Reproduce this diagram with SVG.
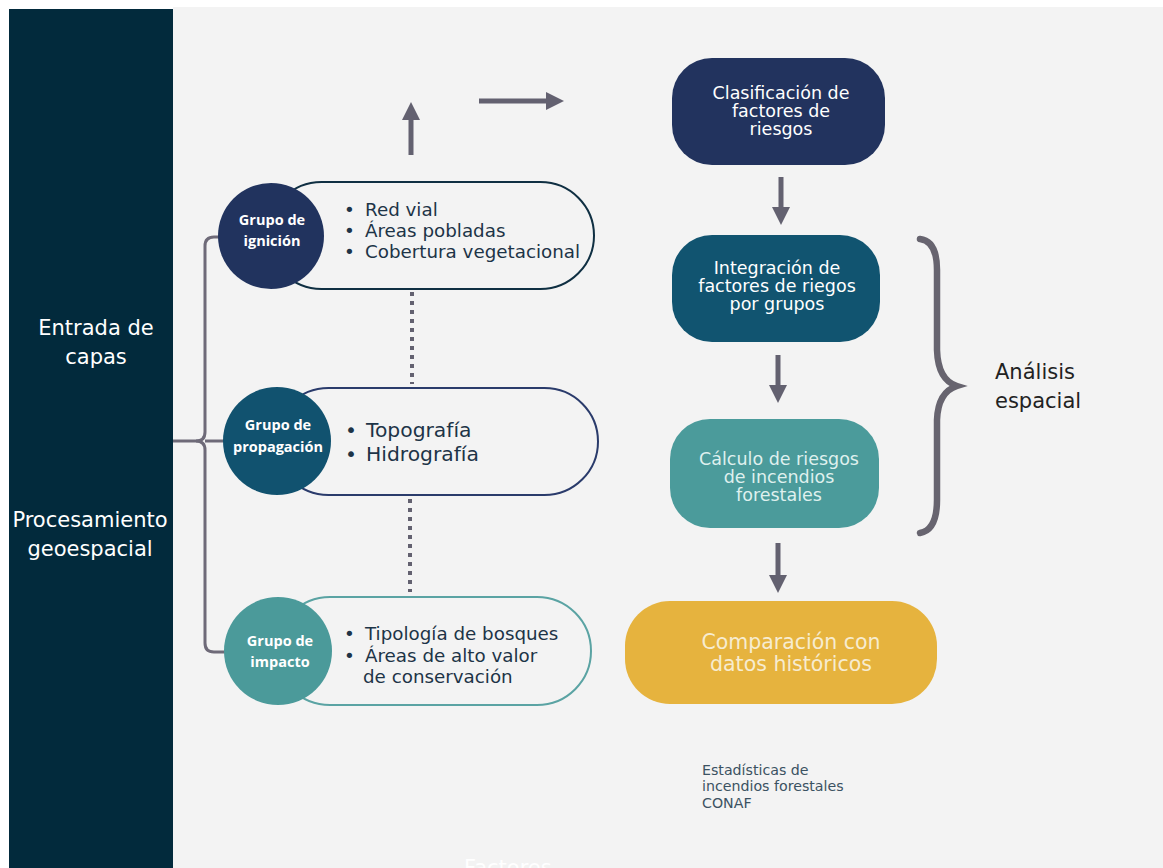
<svg xmlns="http://www.w3.org/2000/svg" width="1163" height="868" viewBox="0 0 1163 868">
<defs>
<style>
.sans{font-family:"DejaVu Sans","Noto Sans","Liberation Sans",sans-serif}
.circ{font-family:"Open Sans","Noto Sans",sans-serif;font-weight:700;font-size:14.5px;fill:#ffffff;text-anchor:middle}
.item{font-family:"DejaVu Sans","Noto Sans",sans-serif;font-size:18.3px;fill:#1d3447}
.box{font-family:"DejaVu Sans","Noto Sans",sans-serif;font-size:17.5px;text-anchor:middle}
.side{font-family:"DejaVu Sans","Noto Sans",sans-serif;font-size:21px;fill:#ffffff;text-anchor:middle}
.conn{stroke:#636170;stroke-width:5;fill:none}
.dot{stroke:#636170;stroke-width:4;fill:none;stroke-dasharray:4 5}
.tree{stroke:#6e6a78;stroke-width:3;fill:none}
</style>
<marker id="ah" markerUnits="userSpaceOnUse" markerWidth="20" markerHeight="20" viewBox="0 0 20 20" refX="2" refY="10" orient="auto">
<path d="M0,1 L18,10 L0,19 Z" fill="#636170"/>
</marker>
</defs>
<rect width="1163" height="868" fill="#ffffff"/>
<rect x="173" y="7" width="990" height="861" fill="#f3f3f3"/>
<rect id="panel" x="9" y="9" width="164" height="859" fill="#022a3c"/>
<text class="side" x="96" y="335">Entrada de</text>
<text class="side" x="96" y="364">capas</text>
<text class="side" x="90" y="527">Procesamiento</text>
<text class="side" x="90" y="556">geoespacial</text>

<g id="connectors">
<path class="tree" d="M173,441 H196 Q205,441 205,432 V246 Q205,237 214,237 H222"/>
<path class="tree" d="M196,441 Q205,441 205,450 V643 Q205,652 214,652 H226"/>
<path class="tree" d="M205,441 H225"/>
<line class="dot" x1="412" y1="292" x2="412" y2="384"/>
<line class="dot" x1="410" y1="499" x2="410" y2="592"/>
<line class="conn" x1="411" y1="155" x2="411" y2="118" marker-end="url(#ah)"/>
<line class="conn" x1="479" y1="101" x2="548" y2="101" marker-end="url(#ah)"/>
<line class="conn" x1="781" y1="177" x2="781" y2="209" marker-end="url(#ah)"/>
<line class="conn" x1="778" y1="355" x2="778" y2="387" marker-end="url(#ah)"/>
<line class="conn" x1="778" y1="543" x2="778" y2="577" marker-end="url(#ah)"/>
<path d="M920,239 Q937,241 937,270 L937,350 Q938,380 957,386 Q938,392 937,420 L937,500 Q937,530 920,533" stroke="#67646f" stroke-width="6.5" fill="none" stroke-linecap="round"/>
</g>

<g id="grupo-ignicion">
<rect x="268" y="182" width="326" height="107" rx="53.5" fill="none" stroke="#0f2f42" stroke-width="2"/>
<circle cx="271" cy="236" r="53" fill="#21335e"/>
<text class="circ" x="272" y="225">Grupo de</text>
<text class="circ" x="272" y="246">ignición</text>
<text class="item" x="344" y="216">•<tspan x="365">Red vial</tspan></text>
<text class="item" x="344" y="237">•<tspan x="365">Áreas pobladas</tspan></text>
<text class="item" x="344" y="258">•<tspan x="365">Cobertura vegetacional</tspan></text>
</g>

<g id="grupo-propagacion">
<rect x="275" y="388" width="323" height="107" rx="53.5" fill="none" stroke="#2a3b6b" stroke-width="2"/>
<circle cx="277" cy="441" r="54" fill="#11526f"/>
<text class="circ" x="278" y="430">Grupo de</text>
<text class="circ" x="278" y="452">propagación</text>
<text class="item" x="345" y="437" style="font-size:20.3px">•<tspan x="366">Topografía</tspan></text>
<text class="item" x="345" y="461" style="font-size:20.3px">•<tspan x="366">Hidrografía</tspan></text>
</g>

<g id="grupo-impacto">
<rect x="276" y="597" width="315" height="108" rx="54" fill="none" stroke="#5aa3a3" stroke-width="2"/>
<circle cx="278" cy="651" r="54" fill="#4b9a9a"/>
<text class="circ" x="280" y="646">Grupo de</text>
<text class="circ" x="280" y="667">impacto</text>
<text class="item" x="344" y="640">•<tspan x="365">Tipología de bosques</tspan></text>
<text class="item" x="344" y="662">•<tspan x="365">Áreas de alto valor</tspan></text>
<text class="item" x="363" y="683">de conservación</text>
</g>

<g id="clasificacion">
<rect x="672" y="58" width="213" height="107" rx="40" fill="#22335e"/>
<text class="box" x="781" y="99" fill="#ffffff">Clasificación de</text>
<text class="box" x="781" y="117" fill="#ffffff">factores de</text>
<text class="box" x="781" y="135" fill="#ffffff">riesgos</text>
</g>

<g id="integracion">
<rect x="672" y="235" width="208" height="107" rx="40" fill="#115470"/>
<text class="box" x="777" y="274" fill="#ffffff">Integración de</text>
<text class="box" x="777" y="292" fill="#ffffff">factores de riegos</text>
<text class="box" x="777" y="310" fill="#ffffff">por grupos</text>
</g>

<g id="calculo">
<rect x="670" y="419" width="209" height="109" rx="40" fill="#4b9b9b"/>
<text class="box" x="779" y="465" fill="#dff0ee">Cálculo de riesgos</text>
<text class="box" x="779" y="483" fill="#dff0ee">de incendios</text>
<text class="box" x="779" y="501" fill="#dff0ee">forestales</text>
</g>

<g id="comparacion">
<rect x="625" y="601" width="312" height="103" rx="45" fill="#e6b33e"/>
<text class="box" x="791" y="649" fill="#f7ecd0" style="font-size:20.5px">Comparación con</text>
<text class="box" x="791" y="671" fill="#f7ecd0" style="font-size:20.5px">datos históricos</text>
</g>

<g id="analisis">
<text class="sans" x="995" y="379" font-size="21" fill="#222222">Análisis</text>
<text class="sans" x="995" y="408" font-size="21" fill="#222222">espacial</text>
</g>

<g id="estadisticas">
<text class="sans" x="702" y="775" font-size="14.2" fill="#3b5262">Estadísticas de</text>
<text class="sans" x="702" y="791" font-size="14.2" fill="#3b5262">incendios forestales</text>
<text class="sans" x="702" y="808" font-size="14.2" fill="#3b5262">CONAF</text>
</g>

<text class="sans" x="464" y="875" font-size="21" fill="#ffffff">Factores</text>
</svg>
